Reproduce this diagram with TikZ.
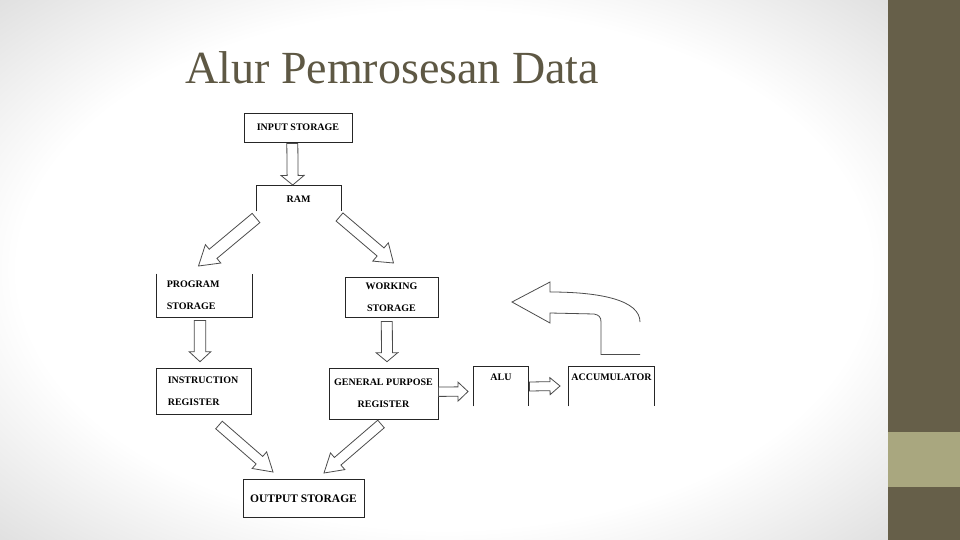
\documentclass[tikz,border=0pt]{standalone}
\usepackage{fontspec}
\setmainfont{Liberation Serif}
\usepackage{tikz}
\usetikzlibrary{calc}
\definecolor{slideDark}{HTML}{665F49}
\definecolor{slideLight}{HTML}{A9A77F}
\definecolor{titleOlive}{HTML}{5E5844}
\definecolor{vignetteGray}{HTML}{DCDCDC}
\pgfdeclareradialshading{vignette}{\pgfpoint{0bp}{0bp}}{color(0bp)=(white); color(24bp)=(white); color(37bp)=(vignetteGray); color(50bp)=(vignetteGray)}
\newcommand{\boxfont}{\fontsize{10}{12}\selectfont\bfseries}
\newcommand{\outfont}{\fontsize{11.5}{13}\selectfont\bfseries}
\tikzset{
  boxline/.style={draw=black!85, line width=0.9pt},
  flowbox/.style={boxline, font=\boxfont, inner sep=0pt, text height=7pt, text depth=0pt},
  openbox/.style={flowbox, draw=none},
  twoline/.style={boxline, font={\bfseries\fontsize{10}{22}\selectfont}, inner ysep=0pt, inner xsep=0pt},
  blockline/.style={draw=black!70, line width=0.8pt, line join=miter, fill=white}
}
% hollow block arrow: tail, tip, half shaft, half head, head length
\newcommand{\blockarrow}[5]{%
  \coordinate (ba) at ($(#2)!#5!(#1)$);
  \draw[blockline] ($(#1)!#3!90:(#2)$) -- ($(ba)!#3!90:(#2)$) -- ($(ba)!#4!90:(#2)$) -- (#2)
    -- ($(ba)!#4!-90:(#2)$) -- ($(ba)!#3!-90:(#2)$) -- ($(#1)!#3!-90:(#2)$) -- cycle;
}

\begin{document}
\begin{tikzpicture}[x=1pt, y=-1pt]
  \useasboundingbox (0,0) rectangle (960,540);
  % slide background
  \shade[shading=vignette] (0,0) rectangle (888,540);
  \fill[slideDark] (888,0) rectangle (960,540);
  \fill[slideLight] (888,432) rectangle (960,487);

  \node[anchor=base west, inner sep=0pt, font=\fontsize{46}{50}\selectfont, text=titleOlive] (title)
    at (185,84) {Alur Pemrosesan Data};

  % boxes
  \node[flowbox, minimum width=108pt, minimum height=29pt] (input) at (298,127.5) {INPUT STORAGE};
  \node[openbox, minimum width=84pt, minimum height=25pt] (ram) at (298.5,198.5) {RAM};
  \draw[boxline] (ram.south west) -- (ram.north west) -- (ram.north east) -- (ram.south east);

  \node[twoline, draw=none, text width=75pt, inner xsep=10pt, align=left, minimum height=43pt] (prog)
    at (204.3,295.5) {PROGRAM\\STORAGE};
  \draw[boxline] (prog.north west) -- (prog.south west) -- (prog.south east) -- (prog.north east);
  \node[twoline, draw, minimum width=93pt, minimum height=40pt, align=center] (work)
    at (391.5,297) {WORKING\\STORAGE};

  \node[twoline, draw, text width=73pt, inner xsep=11pt, align=left, minimum height=46pt] (instr)
    at (204.3,391) {INSTRUCTION\\REGISTER};
  \node[twoline, draw, minimum width=109pt, minimum height=51pt, align=center] (gpr)
    at (383.5,393.5) {GENERAL PURPOSE\\REGISTER};

  \node[openbox, minimum width=54pt, minimum height=39pt, text depth=18.6pt] (alu) at (501,386.5) {ALU};
  \draw[boxline] (alu.south west) -- (alu.north west) -- (alu.north east) -- (alu.south east);
  \node[openbox, minimum width=85pt, minimum height=39pt, text depth=18.6pt] (acc) at (611.5,386.5) {ACCUMULATOR};
  \draw[boxline] (acc.south west) -- (acc.north west) -- (acc.north east) -- (acc.south east);

  \node[flowbox, font=\outfont, minimum width=121pt, minimum height=38pt, text height=8pt] (output)
    at (303.5,498) {OUTPUT STORAGE};

  % arrow ends
  \coordinate (inputTail) at (292.3,143.5);
  \coordinate (ramTip) at (292.7,185);
  \coordinate (ramLeft) at (256,218);
  \coordinate (progTip) at (198.5,266);
  \coordinate (ramRight) at (339.5,217);
  \coordinate (workTip) at (393.5,263);
  \coordinate (progTail) at (200,320.5);
  \coordinate (instrTip) at (200,361.7);
  \coordinate (workTail) at (386.8,321.5);
  \coordinate (gprTip) at (387,361.7);
  \coordinate (instrTail) at (219,425);
  \coordinate (outLeft) at (273,472);
  \coordinate (gprTail) at (381,424);
  \coordinate (outRight) at (324,473);
  \coordinate (gprSide) at (438.5,391.7);
  \coordinate (aluTip) at (468,391.5);
  \coordinate (aluSide) at (529.5,386.5);
  \coordinate (accTip) at (560,386);

  \blockarrow{inputTail}{ramTip}{5.5pt}{11.5pt}{9.5pt}
  \blockarrow{ramLeft}{progTip}{6pt}{12pt}{19pt}
  \blockarrow{ramRight}{workTip}{5.3pt}{12pt}{17pt}
  \blockarrow{progTail}{instrTip}{5.8pt}{10.8pt}{10pt}
  \blockarrow{workTail}{gprTip}{5.5pt}{10.8pt}{9pt}
  \blockarrow{instrTail}{outLeft}{5pt}{11pt}{18pt}
  \blockarrow{gprTail}{outRight}{5pt}{11pt}{18pt}
  \blockarrow{gprSide}{aluTip}{4.7pt}{9.5pt}{10pt}
  \blockarrow{aluSide}{accTip}{4.5pt}{8.5pt}{10pt}

  % return arrow above the accumulator
  \draw[blockline, fill=none] (640,322) .. controls (640,300) and (600,292) .. (550,292)
    -- (550,282) -- (512,302) -- (550,323) -- (550,313) -- (594,314)
    .. controls (599,315) and (601,317) .. (601,322) -- (601,354.5) -- (640,354.5);
\end{tikzpicture}
\end{document}
